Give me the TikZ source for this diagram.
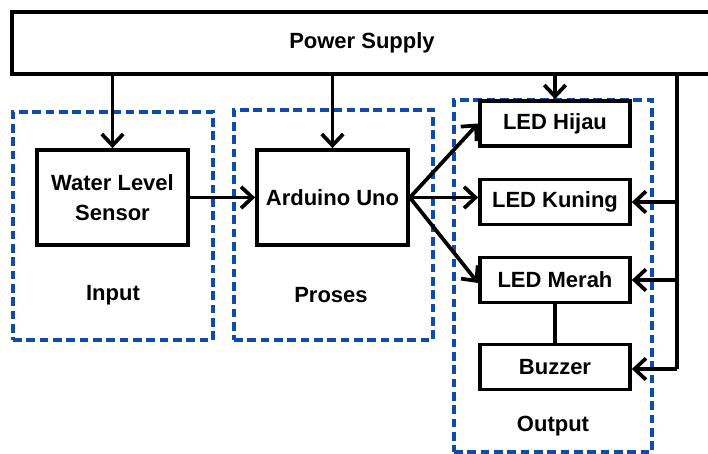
\documentclass[tikz,border=0pt]{standalone}
\usepackage{fontspec}
\setmainfont{Liberation Sans}
\usetikzlibrary{arrows.meta}
\definecolor{grpblue}{RGB}{14,76,172}
\tikzset{
  blok/.style={draw=black, line width=2.8pt, fill=white, inner sep=0pt, align=center,
    font=\bfseries\fontsize{16.5}{22}\selectfont},
  grup/.style={draw=grpblue, line width=2.6pt, dash pattern=on 6.5pt off 3.5pt, inner sep=0pt},
  label/.style={font=\bfseries\fontsize{16.5}{22}\selectfont},
  arr/.style={line width=2.8pt, -{Straight Barb[length=8.5pt,width=16pt,line width=2.8pt]}},
  wire/.style={line width=2.8pt}
}
\begin{document}
\begin{tikzpicture}[x=0.75pt,y=0.75pt,yscale=-1,xscale=1]
\useasboundingbox (0,0) rectangle (708,454);

%Shape: Dashed groups
\node[grup, minimum width=150pt, minimum height=171pt] (gin) at (113,226) {};
\node[grup, minimum width=149.25pt, minimum height=172.5pt] (gpro) at (333.5,225) {};
\node[grup, minimum width=148.5pt, minimum height=264pt] (gout) at (553,276) {};

%Shape: Power supply
\node[blok, minimum width=525pt, minimum height=46.5pt] (ps) at (362,43) {Power Supply};

%Shape: Blocks
\node[blok, minimum width=113.25pt, minimum height=71.25pt] (wls) at (112.5,197.5) {Water Level\\Sensor};
\node[blok, minimum width=113.25pt, minimum height=71.25pt] (ard) at (332.5,197.5) {Arduino Uno};
\node[blok, minimum width=112.5pt, minimum height=33.75pt] (hijau) at (555,123.5) {LED Hijau};
\node[blok, minimum width=112.5pt, minimum height=33.75pt] (kuning) at (555,202) {LED Kuning};
\node[blok, minimum width=112.5pt, minimum height=33.75pt] (merah) at (555,280) {LED Merah};
\node[blok, minimum width=112.5pt, minimum height=33.75pt] (buzzer) at (555,367) {Buzzer};

%Straight Lines
\draw[arr] (ps.south -| wls.north) -- (wls.north);
\draw[arr] (ps.south -| ard.north) -- (ard.north);
\draw[arr] (ps.south -| hijau.north) -- (hijau.north);
\draw[arr] (wls.east) -- (ard.west);
\draw[arr] (ard.east) -- (hijau.west);
\draw[arr] (ard.east) -- (ard.east -| kuning.west);
\draw[arr] (ard.east) -- ([yshift=2.25pt]merah.west);
\draw[wire] (merah.south) -- (buzzer.north);

%Power bus
\coordinate (bus) at (677,369);
\draw[wire] (ps.south -| bus) -- (bus);
\draw[arr] (kuning.east -| bus) -- (kuning.east);
\draw[arr] (merah.east -| bus) -- (merah.east);
\draw[arr] (bus) -- (buzzer.east |- bus);

% Text Node
\node[label] (tin) at (113,295) {Input};
% Text Node
\node[label] (tpro) at (331,295) {Proses};
% Text Node
\node[label] (tout) at (553,426) {Output};

\end{tikzpicture}
\end{document}
